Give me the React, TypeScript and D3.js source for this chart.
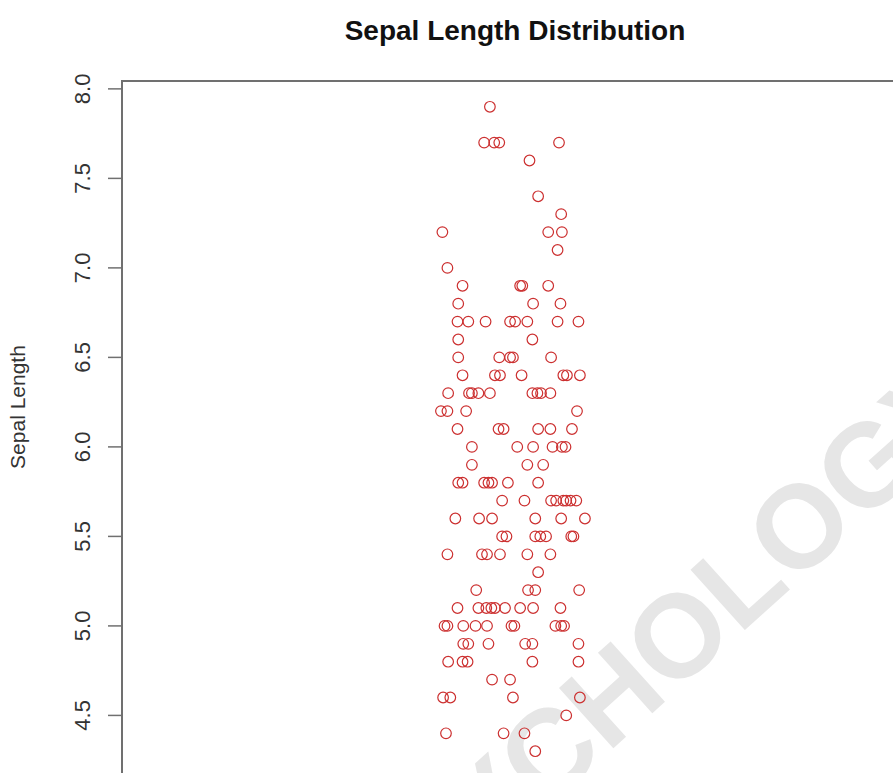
import React from "react";
import * as d3 from "d3";

// iris sepal lengths, grouped by value, with the horizontal jitter
const sepalValues = [
  7.9, 7.7, 7.6, 7.4, 7.3, 7.2, 7.1, 7.0, 6.9, 6.8, 6.7, 6.6, 6.5, 6.4, 6.3, 6.2,
  6.1, 6.0, 5.9, 5.8, 5.7, 5.6, 5.5, 5.4, 5.3, 5.2, 5.1, 5.0, 4.9, 4.8, 4.7, 4.6,
  4.5, 4.4, 4.3,
];

const jitterByValue: number[][] = [
  [0.969],
  [0.961, 0.975, 0.982, 1.065],
  [1.024],
  [1.036],
  [1.068],
  [0.903, 1.05, 1.069],
  [1.063],
  [0.91],
  [0.931, 1.011, 1.014, 1.05],
  [0.925, 1.029, 1.067],
  [0.924, 0.939, 0.963, 0.997, 1.004, 1.021, 1.063, 1.092],
  [0.925, 1.028],
  [0.925, 0.982, 0.997, 1.001, 1.054],
  [0.931, 0.976, 0.983, 1.013, 1.071, 1.076, 1.094],
  [0.911, 0.94, 0.944, 0.953, 0.969, 1.028, 1.035, 1.04, 1.053],
  [0.901, 0.91, 0.936, 1.09],
  [0.924, 0.981, 0.988, 1.036, 1.053, 1.083],
  [0.944, 1.007, 1.029, 1.056, 1.069, 1.074],
  [0.944, 1.021, 1.043],
  [0.925, 0.931, 0.961, 0.967, 0.972, 0.994, 1.036],
  [0.986, 1.017, 1.054, 1.061, 1.071, 1.075, 1.081, 1.089],
  [0.921, 0.954, 0.972, 1.032, 1.068, 1.101],
  [0.986, 0.992, 1.032, 1.039, 1.047, 1.082, 1.085],
  [0.91, 0.958, 0.965, 0.983, 1.021, 1.053],
  [1.036],
  [0.95, 1.022, 1.032, 1.093],
  [0.924, 0.953, 0.964, 0.971, 0.976, 0.99, 1.011, 1.029, 1.067],
  [0.906, 0.91, 0.932, 0.949, 0.965, 0.999, 1.003, 1.06, 1.068, 1.072],
  [0.932, 0.939, 0.967, 1.018, 1.028, 1.092],
  [0.911, 0.931, 0.938, 1.028, 1.092],
  [0.972, 0.997],
  [0.904, 0.914, 1.001, 1.094],
  [1.075],
  [0.908, 0.988, 1.017],
  [1.032],
];

const yTicks = [4.5, 5.0, 5.5, 6.0, 6.5, 7.0, 7.5, 8.0];

const width = 893;
const height = 773;
const font = "'Liberation Sans', Arial, Helvetica, sans-serif";

const App: React.FC = () => {
  const left = 122;
  const top = 81;

  const y = d3.scaleLinear().domain([4.156, 8.044]).range([777, top]);
  const x = d3.scaleLinear().domain([0.458, 1.54]).range([left, 901]);

  const points = sepalValues.flatMap((v, i) =>
    jitterByValue[i].map((j) => ({ v, j }))
  );

  return (
    <svg
      width={width}
      height={height}
      style={{ position: "absolute", left: 0, top: 0, background: "#fff" }}
    >
      {/* faint watermark behind the plot */}
      <text
        transform="translate(678,690) rotate(-42)"
        textAnchor="middle"
        fontFamily={font}
        fontWeight="bold"
        fontSize={118}
        fill="#e6e6e6"
      >
        PSYCHOLOGY
      </text>

      <text
        x={515}
        y={40}
        textAnchor="middle"
        fontFamily={font}
        fontWeight="bold"
        fontSize={28}
        fill="#111"
      >
        Sepal Length Distribution
      </text>

      {/* box: only top and left sides fall inside the picture */}
      <path
        d={`M${left},${height + 5}V${top}H${width + 5}`}
        fill="none"
        stroke="#707070"
        strokeWidth={2}
      />

      {yTicks.map((t) => (
        <g key={t}>
          <line
            x1={left - 14}
            x2={left}
            y1={y(t)}
            y2={y(t)}
            stroke="#707070"
            strokeWidth={1.5}
          />
          <text
            transform={`translate(90,${y(t)}) rotate(-90)`}
            textAnchor="middle"
            fontFamily={font}
            fontSize={22}
            fill="#333"
          >
            {d3.format(".1f")(t)}
          </text>
        </g>
      ))}

      <text
        transform="translate(25,407) rotate(-90)"
        textAnchor="middle"
        fontFamily={font}
        fontSize={21}
        fill="#333"
      >
        Sepal Length
      </text>

      {points.map((p, i) => (
        <circle
          key={i}
          cx={x(p.j)}
          cy={y(p.v)}
          r={5.3}
          fill="none"
          stroke="#cc3030"
          strokeWidth={1.2}
        />
      ))}
    </svg>
  );
};

export default App;
